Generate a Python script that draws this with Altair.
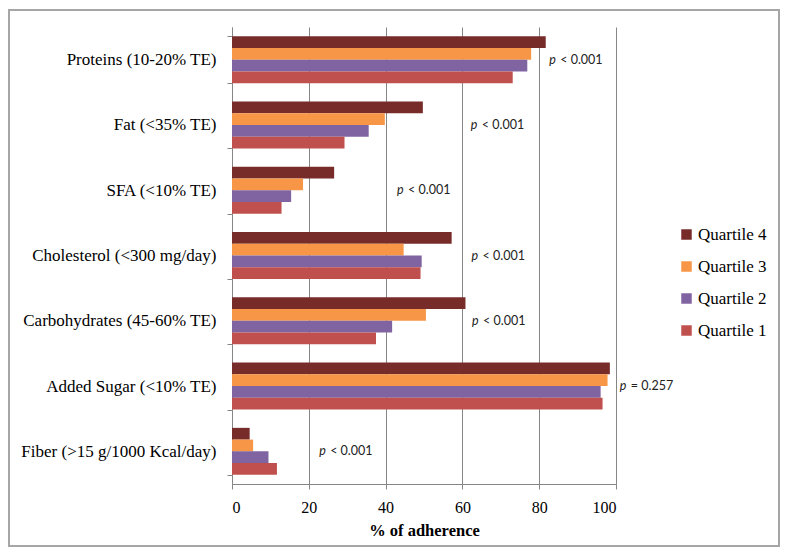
import altair as alt
import pandas as pd

categories = [
    "Proteins (10-20% TE)",
    "Fat (<35% TE)",
    "SFA (<10% TE)",
    "Cholesterol (<300 mg/day)",
    "Carbohydrates (45-60% TE)",
    "Added Sugar (<10% TE)",
    "Fiber (>15 g/1000 Kcal/day)",
]
quartiles = ["Quartile 4", "Quartile 3", "Quartile 2", "Quartile 1"]
q4 = [81.7, 49.7, 26.6, 57.2, 60.8, 98.4, 4.6]
q3 = [77.9, 39.8, 18.5, 44.7, 50.5, 97.8, 5.5]
q2 = [76.9, 35.6, 15.4, 49.4, 41.7, 96.0, 9.5]
q1 = [73.1, 29.3, 12.9, 49.1, 37.5, 96.5, 11.7]
pvals = ["< 0.001", "< 0.001", "< 0.001", "< 0.001", "< 0.001", "= 0.257", "< 0.001"]
pval_anchor = [82.6, 62.2, 43.0, 62.4, 62.5, 101.0, 22.7]
colors = ["#772C2A", "#F79646", "#8064A2", "#C0504D"]
x_ticks = [0, 20, 40, 60, 80, 100]

rows = []
for qname, vals in zip(quartiles, [q4, q3, q2, q1]):
    for c, v in zip(categories, vals):
        rows.append({"category": c, "quartile": qname, "value": v})
df = pd.DataFrame(rows)
pdf = pd.DataFrame({"category": categories, "p": ["p"] * len(categories),
                    "rest": pvals, "x": pval_anchor})

serif = "Liberation Serif"
ysc = alt.Scale(domain=categories, paddingInner=0.28, paddingOuter=0.14)
xsc = alt.Scale(domain=[0, 100], nice=False)

frame = alt.Chart(pd.DataFrame({"a": [0]})).mark_rect(
    fillOpacity=0, stroke="#A6A6A6", strokeWidth=2
).encode(x=alt.value(-223), x2=alt.value(547), y=alt.value(-17), y2=alt.value(519))

bars = alt.Chart(df).mark_bar().encode(
    x=alt.X("value:Q", scale=xsc, title="% of adherence",
            axis=alt.Axis(values=x_ticks, grid=True, gridColor="#868686",
                          tickSize=5, labelPadding=10, titlePadding=7,
                          labelFont=serif, labelFontSize=16,
                          titleFont=serif, titleFontSize=16.5, titleFontWeight="bold",
                          titleColor="#000000")),
    y=alt.Y("category:N", scale=ysc, sort=categories, title=None,
            axis=alt.Axis(tickBand="extent", tickSize=5, labelPadding=11, grid=False,
                          labelFont=serif, labelFontSize=17, labelLimit=300)),
    yOffset=alt.YOffset("quartile:N", sort=quartiles, scale=alt.Scale(domain=quartiles, paddingInner=0, paddingOuter=0)),
    color=alt.Color("quartile:N", scale=alt.Scale(domain=quartiles, range=colors),
                    legend=alt.Legend(title=None, orient="none", legendX=446, legendY=199,
                                      symbolType="square", symbolSize=110, symbolStrokeWidth=0,
                                      labelFont=serif, labelFontSize=17, labelColor="#000000",
                                      rowPadding=14, labelOffset=3, padding=0)),
)

ptxt = alt.Chart(pdf).mark_text(
    font="Lato", fontSize=12.5, fontStyle="italic", align="left", baseline="middle", color="#222222"
).encode(x=alt.X("x:Q", scale=xsc), y=alt.Y("category:N", scale=ysc, sort=categories), text="p:N")

rtxt = alt.Chart(pdf).mark_text(
    font="Lato", fontSize=12.5, align="left", baseline="middle", dx=11, color="#222222"
).encode(x=alt.X("x:Q", scale=xsc), y=alt.Y("category:N", scale=ysc, sort=categories), text="rest:N")

chart = alt.layer(frame, bars, ptxt, rtxt).properties(
    width=384, height=457,
    autosize=alt.AutoSizeParams(type="none"),
    padding={"left": 224, "top": 19, "right": 164, "bottom": 64},
    background="white",
).configure_view(stroke=None).configure_axis(
    domainColor="#868686", tickColor="#868686", labelColor="#000000"
)

chart.save("out.html", embed_options={"renderer": "svg", "actions": False})
